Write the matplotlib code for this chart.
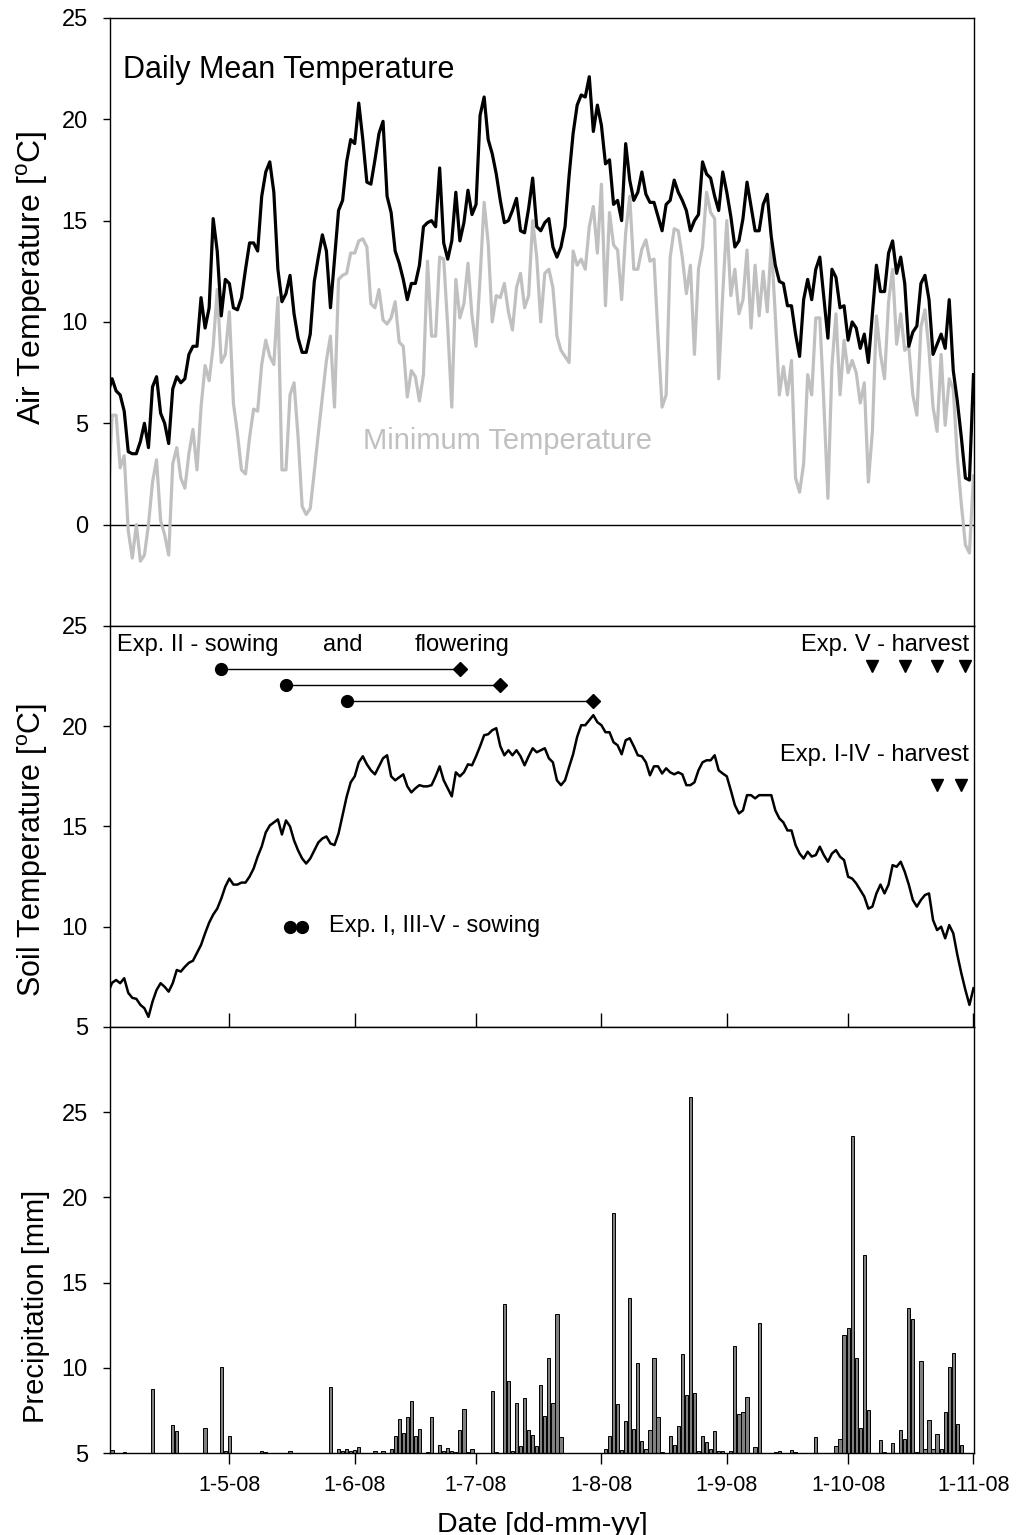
import numpy as np
import pandas as pd
import matplotlib
matplotlib.use('Agg')
import matplotlib.pyplot as plt

plt.rcParams['font.family'] = ['Liberation Sans', 'DejaVu Sans']
plt.rcParams['mathtext.fontset'] = 'custom'
plt.rcParams['mathtext.rm'] = 'Liberation Sans'

# daily series, 1-4-08 .. 1-11-08
days = pd.date_range('2008-04-01', '2008-11-01', freq='D')

air_mean = [6.5,
    7.2, 6.6, 6.4, 5.6, 3.6, 3.5, 3.5, 4.1, 5.0, 3.8,
    6.8, 7.3, 5.5, 5.0, 4.0, 6.7, 7.3, 7.0, 7.2, 8.4,
    8.8, 8.8, 11.2, 9.7, 10.7, 15.1, 13.5, 10.3, 12.1, 11.9,
    10.7, 10.6, 11.2, 12.6, 13.9, 13.9, 13.5, 16.2, 17.4, 17.9,
    16.4, 12.6, 11.0, 11.4, 12.3, 10.4, 9.2, 8.5, 8.5, 9.4,
    12.0, 13.2, 14.3, 13.5, 10.7, 13.1, 15.5, 16.0, 17.9, 19.0,
    18.8, 20.8, 19.0, 16.9, 16.8, 18.0, 19.3, 19.9, 16.2, 15.4,
    13.5, 12.9, 12.1, 11.1, 11.9, 11.9, 12.8, 14.7, 14.9, 15.0,
    14.7, 17.6, 13.9, 13.1, 14.0, 16.4, 14.0, 14.9, 16.5, 15.3,
    15.8, 20.2, 21.1, 19.0, 18.3, 17.3, 16.0, 14.9, 15.0, 15.5,
    16.1, 14.5, 14.4, 15.6, 17.1, 14.7, 14.5, 14.9, 15.1, 13.7,
    13.2, 13.7, 14.7, 17.2, 19.3, 20.7, 21.2, 21.1, 22.1, 19.4,
    20.7, 19.7, 17.8, 18.0, 15.8, 16.0, 15.0, 18.8, 17.0, 16.0,
    16.4, 17.4, 16.3, 15.9, 15.9, 15.2, 14.5, 15.8, 16.0, 17.0,
    16.4, 16.0, 15.5, 14.5, 15.0, 15.3, 17.9, 17.3, 17.1, 16.2,
    15.5, 17.4, 16.4, 15.2, 13.7, 14.0, 15.1, 16.9, 15.7, 14.5,
    14.5, 15.8, 16.3, 14.2, 12.8, 12.0, 11.9, 10.8, 10.8, 9.4,
    8.3, 11.1, 12.1, 11.1, 12.6, 13.2, 11.2, 9.2, 12.6, 12.2,
    10.7, 10.8, 9.1, 10.0, 9.7, 8.7, 9.4, 8.0, 10.4, 12.8,
    11.5, 11.5, 13.4, 14.0, 12.4, 13.2, 11.9, 8.8, 9.5, 9.8,
    11.9, 12.3, 11.1, 8.4, 8.9, 9.4, 8.7, 11.1, 7.6, 6.1,
    4.3, 2.3, 2.2, 7.4]

air_min = [0.8,
    5.4, 5.4, 2.8, 3.4, -0.3, -1.65, 0.0, -1.8, -1.5, 0.0,
    2.1, 3.2, 0.2, -0.5, -1.5, 3.0, 3.8, 2.3, 1.8, 3.5,
    4.7, 2.7, 5.8, 7.85, 7.1, 8.8, 11.6, 8.0, 8.4, 10.5,
    6.0, 4.5, 2.7, 2.5, 4.3, 5.7, 5.6, 7.9, 9.1, 8.3,
    7.9, 11.2, 2.7, 2.7, 6.4, 7.0, 4.3, 0.9, 0.5, 0.8,
    2.6, 4.5, 6.3, 8.1, 9.3, 5.8, 12.1, 12.3, 12.4, 13.4,
    13.4, 14.0, 14.1, 13.7, 10.9, 10.7, 11.6, 10.1, 9.9, 10.2,
    11.0, 9.0, 8.8, 6.3, 7.6, 7.3, 6.1, 7.4, 13.0, 9.3,
    9.3, 13.2, 13.1, 9.75, 5.8, 12.1, 10.2, 10.9, 12.9, 10.3,
    8.8, 12.2, 15.9, 13.9, 10.0, 11.3, 11.2, 11.9, 10.5, 9.6,
    11.7, 12.4, 10.7, 11.3, 15.0, 13.2, 10.0, 12.4, 12.6, 11.7,
    9.3, 8.6, 8.3, 8.0, 13.5, 12.8, 13.1, 12.6, 14.7, 15.7,
    13.4, 16.8, 10.8, 15.4, 13.8, 13.55, 11.1, 14.4, 16.2, 12.6,
    12.6, 13.6, 14.05, 13.0, 13.1, 9.3, 5.8, 6.4, 13.2, 14.6,
    14.5, 13.2, 11.4, 12.8, 8.4, 12.6, 13.7, 16.4, 15.4, 15.1,
    7.2, 11.4, 15.0, 11.3, 12.6, 10.4, 11.1, 13.55, 9.7, 12.8,
    10.3, 12.5, 10.5, 13.9, 10.3, 6.4, 7.8, 6.4, 8.1, 2.3,
    1.6, 3.0, 7.4, 6.4, 10.2, 10.2, 6.0, 1.3, 7.85, 10.4,
    6.4, 9.1, 7.5, 8.1, 7.5, 6.0, 7.0, 2.1, 4.6, 10.3,
    8.4, 7.2, 11.0, 12.6, 8.9, 10.4, 8.6, 8.8, 6.4, 5.4,
    9.75, 10.6, 8.6, 5.8, 4.6, 8.4, 4.9, 7.2, 6.7, 3.3,
    1.0, -1.0, -1.4, 2.4]

soil_temp = [6.7,
    7.2, 7.34, 7.18, 7.43, 6.7, 6.45, 6.4, 6.1, 5.93, 5.5,
    6.26, 6.84, 7.18, 7.0, 6.76, 7.18, 7.84, 7.76, 8.0, 8.2,
    8.3, 8.7, 9.09, 9.67, 10.2, 10.6, 10.9, 11.4, 12.0, 12.4,
    12.1, 12.1, 12.2, 12.2, 12.5, 12.9, 13.5, 14.0, 14.7, 15.05,
    15.2, 15.35, 14.6, 15.3, 15.0, 14.3, 13.8, 13.4, 13.15, 13.4,
    13.8, 14.2, 14.4, 14.5, 14.15, 14.07, 14.65, 15.56, 16.48, 17.2,
    17.5, 18.2, 18.5, 18.1, 17.8, 17.6, 18.0, 18.4, 18.55, 17.5,
    17.3, 17.45, 17.6, 17.0, 16.7, 16.9, 17.06, 17.0, 17.0, 17.06,
    17.5, 18.0, 17.3, 16.9, 16.5, 17.7, 17.5, 17.7, 18.1, 18.05,
    18.5, 19.0, 19.55, 19.6, 19.8, 19.9, 19.0, 18.55, 18.8, 18.55,
    18.8, 18.5, 18.05, 18.5, 18.9, 18.7, 18.8, 18.9, 18.4, 18.2,
    17.3, 17.06, 17.3, 17.96, 18.6, 19.47, 20.05, 20.05, 20.3, 20.55,
    20.2, 20.05, 19.7, 19.7, 19.2, 19.05, 18.6, 19.3, 19.4, 19.0,
    18.55, 18.5, 18.2, 17.55, 18.0, 18.0, 17.64, 17.9, 17.7, 17.6,
    17.7, 17.6, 17.06, 17.06, 17.2, 17.8, 18.2, 18.3, 18.3, 18.55,
    17.8, 17.64, 17.5, 16.8, 16.06, 15.65, 15.8, 16.56, 16.56, 16.4,
    16.56, 16.56, 16.56, 16.56, 15.8, 15.4, 15.2, 14.8, 14.8, 14.07,
    13.65, 13.4, 13.74, 13.5, 13.57, 13.99, 13.57, 13.24, 13.65, 13.82,
    13.49, 13.32, 12.49, 12.4, 12.16, 11.83, 11.5, 10.9, 11.0, 11.66,
    12.1, 11.66, 12.1, 13.07, 12.99, 13.24, 12.74, 12.1, 11.33, 11.0,
    11.33, 11.58, 11.66, 10.33, 9.83, 10.0, 9.42, 10.08, 9.67, 8.6,
    7.67, 6.84, 6.1, 6.93]

# precipitation: day (mm-dd, 2008) and bar top as read on the axis
rain_dates = ['04-02', '04-05', '04-12', '04-17', '04-18', '04-25', '04-29', '04-30',
              '05-01', '05-09', '05-10', '05-16', '05-26', '05-28', '05-29', '05-30',
              '05-31', '06-01', '06-02', '06-06', '06-08', '06-10', '06-11', '06-12',
              '06-13', '06-14', '06-15', '06-16', '06-17', '06-19', '06-20', '06-22',
              '06-23', '06-24', '06-25', '06-26', '06-27', '06-28', '06-29', '06-30',
              '07-05', '07-06', '07-08', '07-09', '07-10', '07-11', '07-12', '07-13',
              '07-14', '07-15', '07-16', '07-17', '07-18', '07-19', '07-20', '07-21',
              '07-22', '08-02', '08-03', '08-04', '08-05', '08-06', '08-07', '08-08',
              '08-09', '08-10', '08-11', '08-12', '08-13', '08-14', '08-15', '08-16',
              '08-18', '08-19', '08-20', '08-21', '08-22', '08-23', '08-24', '08-25',
              '08-26', '08-27', '08-28', '08-29', '08-30', '08-31', '09-02', '09-03',
              '09-04', '09-05', '09-06', '09-08', '09-09', '09-13', '09-14', '09-17',
              '09-18', '09-23', '09-28', '09-29', '09-30', '10-01', '10-02', '10-03',
              '10-04', '10-05', '10-06', '10-09', '10-10', '10-12', '10-14', '10-15',
              '10-16', '10-17', '10-18', '10-19', '10-20', '10-21', '10-22', '10-23',
              '10-24', '10-25', '10-26', '10-27', '10-28', '10-29']
rain_top = [5.2, 5.04, 8.73, 6.63, 6.27, 6.47, 10.04, 5.1,
            6.02, 5.1, 5.04, 5.14, 8.9, 5.25, 5.14, 5.24,
            5.14, 5.2, 5.37, 5.1, 5.1, 5.24, 5.98, 7.0,
            6.2, 7.1, 8.04, 5.98, 6.43, 5.04, 7.1, 5.5,
            5.14, 5.3, 5.14, 5.04, 6.33, 7.6, 5.04, 5.25,
            8.63, 5.04, 13.76, 9.25, 5.1, 7.94, 5.4, 8.24,
            6.37, 6.08, 5.4, 9.02, 7.2, 10.6, 7.94, 13.14,
            5.94, 5.24, 6.02, 19.06, 7.88, 5.2, 6.86, 14.1,
            6.43, 10.3, 5.73, 5.25, 6.37, 10.55, 7.1, 5.04,
            6.02, 5.5, 6.57, 10.8, 8.4, 25.9, 8.53, 5.1,
            5.98, 5.65, 5.24, 6.27, 5.14, 5.1, 5.1, 11.3,
            7.3, 7.4, 8.3, 5.33, 12.65, 5.04, 5.14, 5.2,
            5.04, 5.94, 5.43, 5.84, 11.9, 12.35, 23.6, 10.55,
            6.47, 16.6, 7.5, 5.75, 5.04, 5.6, 6.33, 5.8,
            13.53, 12.84, 5.04, 10.43, 5.25, 6.96, 5.24, 6.14,
            5.24, 7.4, 10.06, 10.9, 6.73, 5.5]

# experiment events
exp2_sowing = ['2008-04-29', '2008-05-15', '2008-05-30']
exp2_flowering = ['2008-06-27', '2008-07-07', '2008-07-30']
other_sowing = ['2008-05-16', '2008-05-19']
harvest_v = ['2008-10-07', '2008-10-15', '2008-10-23', '2008-10-30']
harvest_i_iv = ['2008-10-23', '2008-10-29']

tick_dates = ['2008-05-01', '2008-06-01', '2008-07-01', '2008-08-01',
              '2008-09-01', '2008-10-01', '2008-11-01']
tick_labels = ['1-5-08', '1-6-08', '1-7-08', '1-8-08', '1-9-08', '1-10-08', '1-11-08']

fig = plt.figure(figsize=(10.19, 15.35), dpi=100)
ax1 = fig.add_axes([0.108, 0.5922, 0.848, 0.3961])
ax2 = fig.add_axes([0.108, 0.3310, 0.848, 0.2612], sharex=ax1)
ax3 = fig.add_axes([0.108, 0.0534, 0.848, 0.2775], sharex=ax1)

# --- air temperature
ax1.axhline(0, color='black', lw=1.0)
ax1.plot(days, air_min, color='#c0c0c0', lw=2.3)
ax1.plot(days, air_mean, color='black', lw=2.3)
ax1.set_ylim(-5, 25)
ax1.set_yticks([0, 5, 10, 15, 20, 25])
ax1.text(0.015, 0.914, 'Daily Mean Temperature', transform=ax1.transAxes,
         fontsize=22, va='center', ha='left')
ax1.text(0.46, 0.304, 'Minimum Temperature', transform=ax1.transAxes,
         fontsize=21, va='center', ha='center', color='#c0c0c0')
ax1.set_ylabel('Air Temperature [$^{\\rm o}$C]', fontsize=23)
ax1.yaxis.set_label_coords(-0.07, 0.572)

# --- soil temperature
ax2.plot(days, soil_temp, color='black', lw=1.8)
s = pd.to_datetime(exp2_sowing)
f = pd.to_datetime(exp2_flowering)
for a, b, y in zip(s, f, [22.87, 22.08, 21.26]):
    ax2.plot([a, b], [y, y], color='black', lw=1.0)
    ax2.plot([a], [y], 'o', color='black', ms=8.5)
    ax2.plot([b], [y], 'D', color='black', ms=7.5)
ax2.plot(pd.to_datetime(other_sowing), [10, 10], 'o', color='black', ms=8.5, ls='none')
ax2.plot(pd.to_datetime(harvest_v), [23.0] * len(harvest_v), 'v', color='black', ms=8, ls='none')
ax2.plot(pd.to_datetime(harvest_i_iv), [17.06] * len(harvest_i_iv), 'v', color='black', ms=8, ls='none')
ax2.text(0.008, 0.953, 'Exp. II - sowing', transform=ax2.transAxes, fontsize=17, va='center')
ax2.text(0.2465, 0.953, 'and', transform=ax2.transAxes, fontsize=17, va='center')
ax2.text(0.353, 0.953, 'flowering', transform=ax2.transAxes, fontsize=17, va='center')
ax2.text(0.994, 0.953, 'Exp. V - harvest', transform=ax2.transAxes, fontsize=17,
         va='center', ha='right')
ax2.text(0.994, 0.678, 'Exp. I-IV - harvest', transform=ax2.transAxes, fontsize=17,
         va='center', ha='right')
ax2.text(0.2535, 0.2515, 'Exp. I, III-V - sowing', transform=ax2.transAxes, fontsize=17,
         va='center')
ax2.set_ylim(5, 25)
ax2.set_yticks([5, 10, 15, 20, 25])
ax2.set_ylabel('Soil Temperature [$^{\\rm o}$C]', fontsize=22)
ax2.yaxis.set_label_coords(-0.07, 0.441)

# --- precipitation
rain_x = pd.to_datetime(['2008-' + d for d in rain_dates])
ax3.bar(rain_x, np.array(rain_top) - 5, bottom=5, width=0.8, color='#808080',
        edgecolor='black', linewidth=0.7)
ax3.set_ylim(5, 30)
ax3.set_yticks([5, 10, 15, 20, 25])
ax3.set_ylabel('Precipitation [mm]', fontsize=21)
ax3.yaxis.set_label_coords(-0.07, 0.345)
ax3.set_xlabel('Date [dd-mm-yy]', fontsize=20.5)
ax3.xaxis.set_label_coords(0.5, -0.1385)

ax3.set_xlim(pd.Timestamp('2008-04-01 12:00'), pd.Timestamp('2008-11-01 04:00'))
ax3.set_xticks(pd.to_datetime(tick_dates))
ax3.set_xticklabels(tick_labels)

for ax in (ax1, ax2, ax3):
    ax.tick_params(axis='y', direction='out', length=5, width=1, labelsize=17, pad=11)
    for sp in ax.spines.values():
        sp.set_linewidth(1.0)
ax1.tick_params(axis='x', bottom=False, labelbottom=False)
ax2.tick_params(axis='x', direction='in', length=10, width=1, labelbottom=False)
ax3.tick_params(axis='x', direction='out', length=8, width=1, labelsize=15.5, pad=8)

fig.savefig('out.png', dpi=100)
